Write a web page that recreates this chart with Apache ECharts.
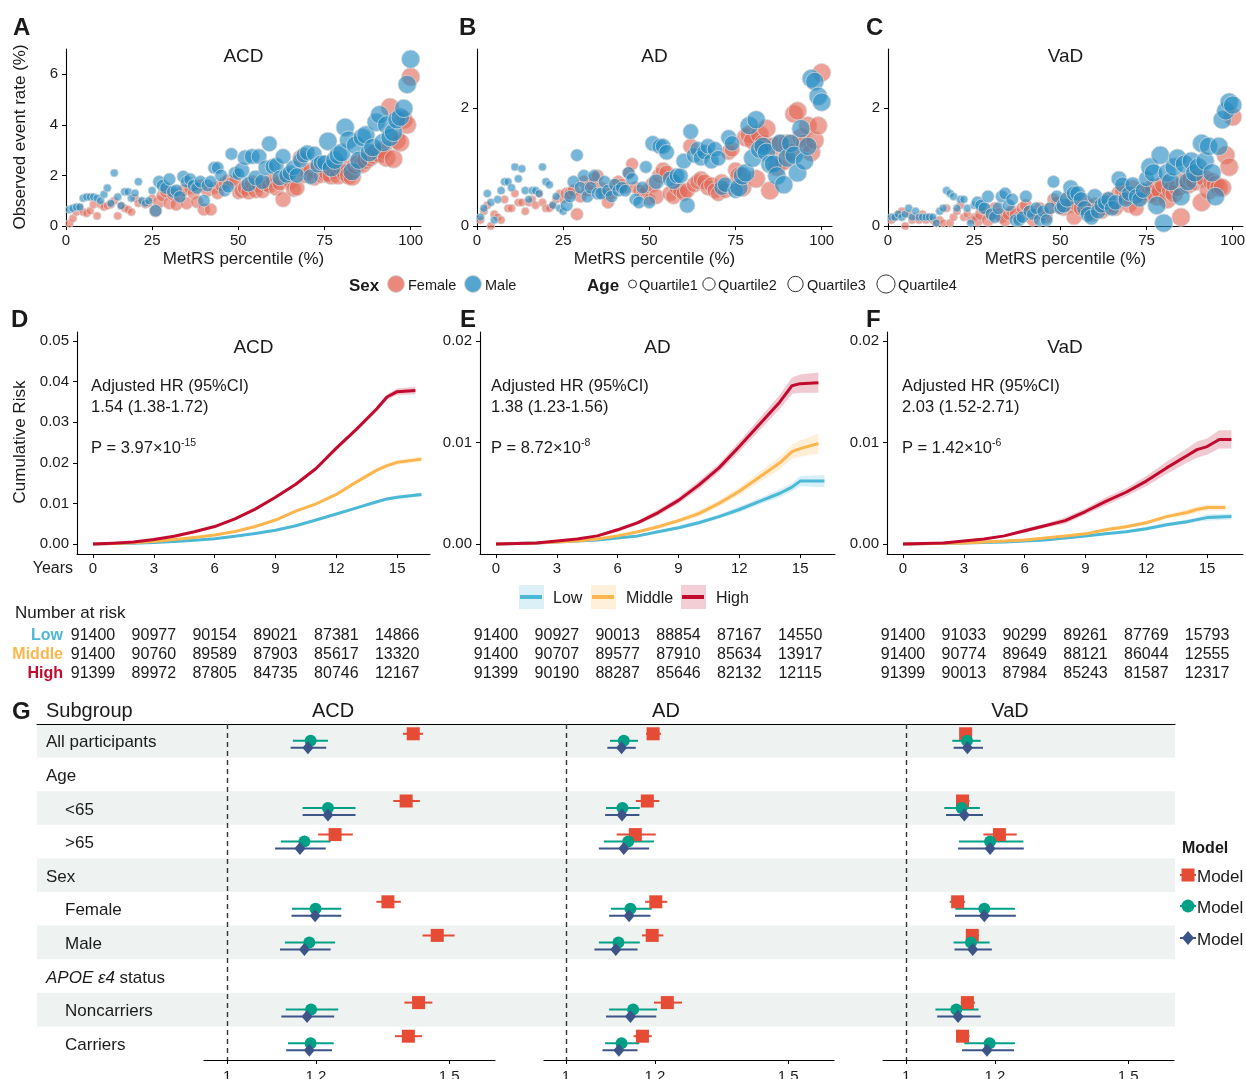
<!DOCTYPE html>
<html><head><meta charset="utf-8">
<script src="https://cdn.jsdelivr.net/npm/echarts@6/dist/echarts.min.js"></script>
<style>html,body{margin:0;padding:0;background:#fff}#c{width:1246px;height:1079px}</style>
</head><body><div id="c"></div>
<script>
// ---------------- DATA ----------------
// Panel A-C: observed event rate (%) by MetRS percentile (1..100), by sex
const acdFemale = [0.1,0.3,0.55,0.7,0.55,0.5,0.6,0.85,0.4,0.85, 0.75,0.8,0.85,1.0,0.4,0.8,0.7,0.65,0.55,1.1, 0.9,0.95,0.85,0.9,1.1,0.6,0.95,1.2,1.35,0.9, 1.25,0.85,1.2,1.4,0.9,1.5,1.3,0.95,1.6,0.65, 1.4,0.65,1.5,1.3,1.6,1.7,1.8,1.7,1.8,1.3, 1.4,1.5,1.35,1.7,1.4,1.6,1.4,1.65,1.6,1.8, 1.5,1.7,1.05,1.9,1.75,1.45,1.5,2.7,2.0,2.1, 2.2,1.9,2.3,2.0,2.05,2.1,2.0,2.2,2.0,2.3, 2.1,2.0,1.95,2.4,2.5,2.45,2.6,2.7,2.8,2.9, 2.85,3.0,2.7,4.7,2.65,3.4,3.3,4.2,4.0,5.9];
const acdMale = [0.65,0.7,0.75,0.75,1.1,1.15,1.15,1.15,1.1,1.0, 1.25,1.5,0.9,2.1,1.15,0.8,1.35,1.35,1.1,1.3, 1.75,1.0,0.9,1.0,1.4,0.6,1.75,1.6,1.5,1.85, 1.35,1.4,1.15,1.95,1.75,1.85,1.6,1.5,1.75,1.0, 1.6,1.75,2.3,2.3,2.0,1.4,1.55,2.85,2.1,2.05, 2.2,2.7,1.65,2.75,1.9,2.75,1.75,2.3,3.25,2.35, 2.4,1.9,2.75,2.0,2.1,2.3,2.0,2.6,2.8,2.9, 1.95,2.85,2.4,2.5,2.5,3.35,2.3,2.6,2.8,2.9, 3.9,3.4,2.15,3.2,2.6,3.5,3.6,2.9,3.1,4.1, 4.4,3.3,4.0,3.5,3.7,4.2,4.3,4.65,5.6,6.6];
const adFemale = [0.1,0.25,0.35,0.0,0.2,0.15,0.1,0.45,0.3,0.3, 0.55,0.4,0.4,0.25,0.4,0.45,0.35,0.55,0.4,0.3, 0.3,0.35,0.45,0.55,0.45,0.55,0.55,0.6,0.2,0.5, 0.75,0.6,0.7,0.8,0.85,0.65,0.55,0.4,0.55,0.7, 0.75,0.7,0.65,0.9,1.05,0.65,0.6,0.55,0.6,0.45, 0.7,0.5,0.85,0.95,0.9,0.55,0.5,0.65,0.6,0.55, 0.6,1.35,0.7,0.75,0.8,0.75,0.65,0.7,0.6,0.55, 0.75,0.6,1.25,1.3,0.95,0.85,0.65,1.5,1.55,1.45, 0.8,1.55,1.4,1.65,0.6,1.35,1.0,1.4,1.1,1.4, 1.25,1.9,1.95,1.5,1.4,1.7,1.25,1.45,1.7,2.6];
const adMale = [0.15,0.3,0.55,0.4,0.1,0.45,0.6,0.75,0.75,0.65, 1.0,0.8,0.97,0.6,0.45,0.6,0.6,0.55,1.0,0.75, 0.7,0.35,0.5,0.3,0.25,0.35,0.5,0.75,1.2,0.65, 0.85,0.5,0.65,0.85,0.55,0.55,0.75,0.6,0.5,0.7, 0.6,0.65,0.6,0.9,0.8,0.45,0.4,0.65,1.0,0.4, 1.4,0.75,1.35,1.35,1.25,0.8,0.75,0.85,0.85,1.1, 0.35,1.6,1.2,1.3,1.15,1.25,1.35,1.1,1.3,1.15, 0.65,0.7,1.5,1.4,0.6,0.65,0.85,0.9,1.7,1.15, 1.8,1.3,1.35,1.25,1.05,1.05,0.85,1.4,0.7,1.15, 1.4,1.2,0.9,1.65,1.1,1.35,2.5,2.45,2.2,2.1];
const vadFemale = [0.1,0.15,0.2,0.25,0.0,0.2,0.1,0.15,0.1,0.2, 0.1,0.15,0.1,0.05,0.1,0.05,0.3,0.05,0.15,0.25, 0.35,0.15,0.2,0.1,0.15,0.1,0.2,0.3,0.1,0.2, 0.3,0.2,0.15,0.1,0.2,0.25,0.2,0.15,0.3,0.35, 0.25,0.1,0.2,0.3,0.2,0.15,0.3,0.45,0.4,0.3, 0.3,0.45,0.35,0.15,0.35,0.3,0.4,0.25,0.2,0.35, 0.3,0.25,0.3,0.45,0.35,0.3,0.55,0.6,0.5,0.35, 0.65,0.3,0.55,0.5,0.6,0.55,0.65,0.5,0.6,0.7, 0.45,0.6,0.55,0.65,0.15,0.75,0.7,0.8,0.75,0.85, 0.4,0.8,0.6,0.75,0.7,0.65,0.65,1.2,1.0,1.85];
const vadMale = [0.15,0.15,0.2,0.15,0.2,0.3,0.15,0.25,0.15,0.15, 0.15,0.15,0.15,0.05,0.25,0.3,0.6,0.55,0.5,0.3, 0.45,0.45,0.3,0.05,0.35,0.4,0.35,0.3,0.5,0.2, 0.15,0.3,0.5,0.55,0.35,0.45,0.1,0.1,0.15,0.5, 0.25,0.2,0.3,0.1,0.25,0.1,0.3,0.75,0.5,0.3, 0.35,0.45,0.65,0.55,0.55,0.45,0.3,0.2,0.15,0.5, 0.25,0.35,0.4,0.45,0.3,0.4,0.8,0.7,0.45,0.55, 0.7,0.5,0.45,0.6,0.8,1.0,0.9,0.35,1.2,0.05, 0.9,0.75,1.0,1.15,0.5,1.05,0.75,1.1,0.9,1.0, 1.4,1.1,1.35,0.9,0.5,1.35,1.8,1.95,2.1,2.05];

// Panel D-F: cumulative risk curves [year, risk, CI half-width]
const kmAcdLow = [[0,0,0],[1,0.0001,0],[2,0.0002,0.0001],[3,0.0004,0.0001],[4,0.0006,0.0001],[5,0.0009,0.0001],[6,0.0013,0.0001],[7,0.0019,0.0002],[8,0.0026,0.0002],[9,0.0034,0.0002],[10,0.0045,0.0002],[11,0.0059,0.0003],[12,0.0074,0.0003],[13,0.0089,0.0003],[14,0.0104,0.0004],[14.5,0.0111,0.0004],[15,0.0115,0.0004],[16.2,0.0122,0.0005]];
const kmAcdMid = [[0,0,0],[1,0.0001,0],[2,0.0003,0.0001],[3,0.0006,0.0001],[4,0.0011,0.0001],[5,0.0016,0.0001],[6,0.0022,0.0002],[7,0.0031,0.0002],[8,0.0043,0.0002],[9,0.0059,0.0003],[10,0.0081,0.0003],[11,0.0099,0.0003],[12,0.0122,0.0004],[13,0.0153,0.0004],[14,0.0182,0.0005],[14.5,0.0193,0.0005],[15,0.0201,0.0006],[16.2,0.0209,0.0007]];
const kmAcdHigh = [[0,0,0],[1,0.0002,0],[2,0.0005,0.0001],[3,0.0011,0.0001],[4,0.0019,0.0001],[5,0.003,0.0002],[6,0.0043,0.0002],[7,0.0062,0.0002],[8,0.0086,0.0003],[9,0.0115,0.0003],[10,0.0147,0.0004],[11,0.0186,0.0004],[12,0.0236,0.0005],[13,0.0283,0.0005],[14,0.0333,0.0006],[14.5,0.0362,0.0007],[15,0.0375,0.0008],[15.9,0.0378,0.0009]];
const kmAdLow = [[0,0,0],[2,0.0001,0],[3,0.0002,0.0001],[4,0.0003,0.0001],[5,0.0004,0.0001],[6,0.0006,0.0001],[7,0.0008,0.0001],[8,0.0012,0.0001],[9,0.0016,0.0002],[10,0.0021,0.0002],[11,0.0027,0.0002],[12,0.0034,0.0003],[13,0.0042,0.0003],[14,0.005,0.0004],[14.6,0.0056,0.0004],[15,0.0062,0.0005],[16.2,0.0062,0.0006]];
const kmAdMid = [[0,0,0],[2,0.0001,0],[3,0.0002,0.0001],[4,0.0003,0.0001],[5,0.0005,0.0001],[6,0.0008,0.0001],[7,0.0012,0.0001],[8,0.0017,0.0002],[9,0.0023,0.0002],[10,0.003,0.0003],[11,0.004,0.0003],[12,0.0052,0.0004],[13,0.0066,0.0005],[14,0.008,0.0006],[14.6,0.0091,0.0007],[15,0.0094,0.0008],[15.9,0.0099,0.001]];
const kmAdHigh = [[0,0,0],[1,0.00005,0],[2,0.0001,0],[3,0.0003,0.0001],[4,0.0005,0.0001],[5,0.0008,0.0001],[6,0.0014,0.0002],[7,0.0021,0.0002],[8,0.0031,0.0003],[9,0.0043,0.0003],[10,0.0058,0.0004],[11,0.0075,0.0004],[12,0.0096,0.0005],[13,0.0118,0.0006],[14,0.014,0.0007],[14.6,0.0156,0.0008],[15,0.0158,0.0009],[15.9,0.0159,0.001]];
const kmVadLow = [[0,0,0],[3,0.0001,0],[5,0.0002,0.0001],[6,0.0003,0.0001],[7,0.0004,0.0001],[8,0.0006,0.0001],[9,0.0008,0.0001],[10,0.001,0.0001],[11,0.0012,0.0001],[12,0.0015,0.0002],[13,0.0019,0.0002],[14,0.0022,0.0002],[14.5,0.0024,0.0002],[15,0.0026,0.0003],[16.2,0.0027,0.0003]];
const kmVadMid = [[0,0,0],[3,0.0001,0],[4,0.0002,0.0001],[5,0.0003,0.0001],[6,0.0004,0.0001],[7,0.0006,0.0001],[8,0.0008,0.0001],[9,0.001,0.0001],[10,0.0014,0.0002],[11,0.0017,0.0002],[12,0.0021,0.0002],[13,0.0027,0.0002],[14,0.0031,0.0003],[14.5,0.0034,0.0003],[15,0.0036,0.0003],[15.9,0.0036,0.0003]];
const kmVadHigh = [[0,0,0],[1,0.00005,0],[2,0.0001,0],[3,0.0003,0.0001],[4,0.0005,0.0001],[5,0.0008,0.0001],[6,0.0013,0.0002],[7,0.0018,0.0002],[8,0.0023,0.0003],[9,0.0032,0.0003],[10,0.0042,0.0004],[11,0.0051,0.0004],[12,0.0062,0.0005],[13,0.0075,0.0006],[14,0.0087,0.0007],[14.5,0.0093,0.0008],[15,0.0096,0.0008],[15.6,0.0103,0.0009],[16.2,0.0103,0.0009]];

const kmYearTicks = [0,3,6,9,12,15];
const riskGroups = ['Low','Middle','High'];
const riskAcdLow = [91400,90977,90154,89021,87381,14866];
const riskAcdMid = [91400,90760,89589,87903,85617,13320];
const riskAcdHigh = [91399,89972,87805,84735,80746,12167];
const riskAdLow = [91400,90927,90013,88854,87167,14550];
const riskAdMid = [91400,90707,89577,87910,85634,13917];
const riskAdHigh = [91399,90190,88287,85646,82132,12115];
const riskVadLow = [91400,91033,90299,89261,87769,15793];
const riskVadMid = [91400,90774,89649,88121,86044,12555];
const riskVadHigh = [91399,90013,87984,85243,81587,12317];

// Panel G: hazard ratios [estimate, lower, upper]; null = header row
const forestRows = ['All participants','Age','<65','>65','Sex','Female','Male','APOE ε4 status','Noncarriers','Carriers'];
const forestLevel = [0,0,1,1,0,1,1,0,1,1];
const acdM1 = [[1.419,1.396,1.441],null,[1.403,1.374,1.434],[1.243,1.205,1.283],null,[1.362,1.336,1.391],[1.473,1.440,1.512],null,[1.431,1.399,1.462],[1.408,1.378,1.439]];
const acdM2 = [[1.188,1.148,1.227],null,[1.227,1.170,1.289],[1.174,1.121,1.233],null,[1.199,1.146,1.257],[1.185,1.130,1.243],null,[1.189,1.132,1.250],[1.188,1.137,1.240]];
const acdM3 = [[1.182,1.143,1.223],null,[1.227,1.170,1.289],[1.164,1.108,1.222],null,[1.198,1.145,1.257],[1.174,1.119,1.233],null,[1.180,1.122,1.241],[1.185,1.133,1.236]];
const adM1 = [[1.196,1.180,1.214],null,[1.183,1.157,1.210],[1.156,1.114,1.202],null,[1.202,1.178,1.228],[1.194,1.171,1.219],null,[1.228,1.198,1.261],[1.172,1.152,1.193]];
const adM2 = [[1.130,1.099,1.162],null,[1.127,1.090,1.166],[1.140,1.085,1.198],null,[1.145,1.101,1.193],[1.118,1.074,1.166],null,[1.151,1.097,1.205],[1.125,1.088,1.165]];
const adM3 = [[1.125,1.093,1.157],null,[1.126,1.088,1.165],[1.130,1.074,1.187],null,[1.142,1.097,1.190],[1.112,1.064,1.161],null,[1.145,1.090,1.203],[1.119,1.082,1.161]];
const vadM1 = [[1.134,1.122,1.148],null,[1.127,1.114,1.143],[1.210,1.174,1.249],null,[1.116,1.098,1.133],[1.149,1.135,1.164],null,[1.138,1.123,1.155],[1.127,1.114,1.143]];
const vadM2 = [[1.137,1.104,1.168],null,[1.125,1.086,1.166],[1.189,1.119,1.264],null,[1.176,1.111,1.245],[1.146,1.107,1.188],null,[1.113,1.066,1.163],[1.188,1.131,1.245]];
const vadM3 = [[1.138,1.107,1.173],null,[1.131,1.090,1.173],[1.189,1.117,1.265],null,[1.176,1.110,1.247],[1.150,1.109,1.193],null,[1.117,1.070,1.168],[1.182,1.126,1.243]];
const forestTicks = [1,1.2,1.5];

// ---------------- STYLE ----------------
const FONT = '"Liberation Sans", Arial, Helvetica, sans-serif';
const TXT = '#1a1a1a';
const FEM = 'rgba(228,104,86,0.78)';
const MAL = 'rgba(36,140,194,0.78)';
const CLOW = '#4BB8D6', CMID = '#FDB54E', CHIGH = '#C10A2E';
const CM1 = '#E64B35', CM2 = '#00A087', CM3 = '#3C5488';
const QSIZE = [8, 12.5, 15.5, 18.3];
const DY = 2; // text baseline nudge

const grids = [
  {left:66, top:49, width:355, height:177},
  {left:477, top:49, width:355, height:177},
  {left:888, top:49, width:355, height:177},
  {left:77, top:332, width:353, height:222},
  {left:480, top:332, width:355, height:222},
  {left:887, top:332, width:356, height:222},
  {left:77, top:624, width:353, height:57},
  {left:480, top:624, width:355, height:57},
  {left:887, top:624, width:356, height:57},
  {left:37, top:724, width:1138, height:336},
  {left:204, top:724, width:291, height:336},
  {left:544, top:724, width:290, height:336},
  {left:883, top:724, width:291, height:336}
].map(g => Object.assign({containLabel:false, outerBoundsMode:'none'}, g));

function vAxis(gi, min, max, ticks, o) {
  o = o || {};
  return {
    type:'value', gridIndex:gi, min:min, max:max, position:o.position,
    show: o.show !== false,
    splitLine:{show:false},
    axisLine:{show:true, onZero:false, lineStyle:{color:'#000', width:1.1}},
    axisTick:{show:o.tick !== false, length:4, customValues:ticks, lineStyle:{color:'#000', width:1}},
    axisLabel:{show:o.label !== false, customValues:ticks, color:TXT, fontFamily:FONT, fontSize:15, margin:o.margin || 6,
      formatter:o.fmt}
  };
}

const xAxes = [
  vAxis(0, 0, 103, [0,25,50,75,100], {margin:7}),
  vAxis(1, 0, 103, [0,25,50,75,100], {margin:7}),
  vAxis(2, 0, 103, [0,25,50,75,100], {margin:7}),
  vAxis(3, -0.79, 16.62, kmYearTicks, {margin:7}),
  vAxis(4, -0.79, 16.72, kmYearTicks, {margin:7}),
  vAxis(5, -0.79, 16.77, kmYearTicks, {margin:7}),
  vAxis(6, -0.79, 16.62, kmYearTicks, {show:false}),
  vAxis(7, -0.79, 16.72, kmYearTicks, {show:false}),
  vAxis(8, -0.79, 16.77, kmYearTicks, {show:false}),
  Object.assign(vAxis(9, 0, 1, [], {position:'top', tick:false, label:false}), {axisLine:{show:true, onZero:false, lineStyle:{color:'#000', width:1.2}}}),
  vAxis(10, 0.948, 1.603, forestTicks, {margin:9}),
  vAxis(11, 0.9505, 1.603, forestTicks, {margin:9}),
  vAxis(12, 0.948, 1.603, forestTicks, {margin:9})
];
const fmt2 = v => v.toFixed(2);
const catAxis = (gi, data, o) => Object.assign({
  type:'category', gridIndex:gi, data:data, inverse:true, boundaryGap:true,
  axisLine:{show:false}, axisTick:{show:false}, splitLine:{show:false}, axisLabel:{show:false}
}, o || {});
const yAxes = [
  vAxis(0, 0, 7, [0,2,4,6], {margin:8}),
  vAxis(1, 0, 3, [0,2], {margin:8}),
  vAxis(2, 0, 3, [0,2], {margin:8}),
  vAxis(3, -0.00246, 0.0522, [0,0.01,0.02,0.03,0.04,0.05], {margin:8, fmt:fmt2}),
  vAxis(4, -0.000985, 0.02089, [0,0.01,0.02], {margin:8, fmt:fmt2}),
  vAxis(5, -0.000985, 0.02089, [0,0.01,0.02], {margin:8, fmt:fmt2}),
  catAxis(6, riskGroups, {axisLabel:{show:true, margin:14, formatter:v => '{' + v + '|' + v + '}',
    rich:{Low:{color:CLOW, fontWeight:'bold', fontSize:16, fontFamily:FONT, padding:[DY*2,0,0,0]},
          Middle:{color:CMID, fontWeight:'bold', fontSize:16, fontFamily:FONT, padding:[DY*2,0,0,0]},
          High:{color:CHIGH, fontWeight:'bold', fontSize:16, fontFamily:FONT, padding:[DY*2,0,0,0]}}}}),
  catAxis(7, riskGroups),
  catAxis(8, riskGroups),
  catAxis(9, forestRows),
  catAxis(10, forestRows),
  catAxis(11, forestRows),
  catAxis(12, forestRows)
];

const series = [];

// ---- scatter panels
function scat(gi, vals, color) {
  series.push({
    type:'scatter', xAxisIndex:gi, yAxisIndex:gi, z:2,
    data: vals.map((v, i) => [i + 1, v]),
    symbol:'circle',
    symbolSize: d => QSIZE[Math.min(3, Math.ceil(d[0] / 25) - 1)],
    itemStyle:{color:color, borderColor:'rgba(215,215,215,0.95)', borderWidth:1},
    emphasis:{disabled:true}
  });
}
scat(0, acdFemale, FEM); scat(0, acdMale, MAL);
scat(1, adFemale, FEM); scat(1, adMale, MAL);
scat(2, vadFemale, FEM); scat(2, vadMale, MAL);

// ---- KM panels
function band(gi, curve, color) {
  series.push({
    type:'custom', xAxisIndex:gi, yAxisIndex:gi, z:1, silent:true,
    data: curve.map((p, i) => [p[0], p[1], i]),
    encode:{x:0, y:1},
    renderItem: function (params, api) {
      if (api.value(2) !== 0) return null;
      const up = curve.map(p => api.coord([p[0], p[1] + p[2]]));
      const lo = curve.slice().reverse().map(p => api.coord([p[0], p[1] - p[2]]));
      return {type:'polygon', shape:{points: up.concat(lo)}, style:{fill:color, opacity:0.22}};
    }
  });
}
function kmLine(gi, curve, color) {
  series.push({
    type:'line', xAxisIndex:gi, yAxisIndex:gi, z:3, showSymbol:false, silent:true,
    data: curve.map(p => [p[0], p[1]]),
    lineStyle:{color:color, width:3, join:'round'}, itemStyle:{color:color}
  });
}
[[3, kmAcdLow, kmAcdMid, kmAcdHigh], [4, kmAdLow, kmAdMid, kmAdHigh], [5, kmVadLow, kmVadMid, kmVadHigh]].forEach(r => {
  band(r[0], r[1], CLOW); band(r[0], r[2], CMID); band(r[0], r[3], CHIGH);
  kmLine(r[0], r[1], CLOW); kmLine(r[0], r[2], CMID); kmLine(r[0], r[3], CHIGH);
});

// ---- risk tables
function riskSeries(gi, rows) {
  const data = [];
  rows.forEach((arr, ri) => arr.forEach((n, j) => data.push([kmYearTicks[j], ri, n])));
  series.push({
    type:'custom', xAxisIndex:gi, yAxisIndex:gi, silent:true, data:data, encode:{x:0, y:1},
    renderItem: function (params, api) {
      const c = api.coord([api.value(0), api.value(1)]);
      return {type:'text', x:c[0], y:c[1] + DY, style:{text:String(api.value(2)), fontFamily:FONT, fontSize:16, fill:TXT, align:'center', verticalAlign:'middle'}};
    }
  });
}
riskSeries(6, [riskAcdLow, riskAcdMid, riskAcdHigh]);
riskSeries(7, [riskAdLow, riskAdMid, riskAdHigh]);
riskSeries(8, [riskVadLow, riskVadMid, riskVadHigh]);

// ---- forest background bands + row labels
series.push({
  type:'custom', xAxisIndex:9, yAxisIndex:9, z:0, silent:true,
  data: forestRows.map((r, i) => [0, i]), encode:{x:0, y:1},
  renderItem: function (params, api) {
    const i = api.value(1);
    const c = api.coord([0, i]);
    const h = api.size([0, 1])[1];
    const cs = params.coordSys;
    const kids = [];
    if (i % 2 === 0) kids.push({type:'rect', shape:{x:cs.x, y:c[1] - h / 2, width:cs.width, height:h}, style:{fill:'#EEF2F0'}});
    const label = forestRows[i];
    const isApoe = label.indexOf('APOE') === 0;
    kids.push({type:'text', x: cs.x + (forestLevel[i] ? 28 : 9), y: c[1] + DY,
      style: isApoe ? {text:'{i|APOE ε4} status', rich:{i:{fontStyle:'italic', fontFamily:FONT, fontSize:17, fill:TXT}}, fontFamily:FONT, fontSize:17, fill:TXT, align:'left', verticalAlign:'middle'}
                    : {text:label, fontFamily:FONT, fontSize:17, fill:TXT, align:'left', verticalAlign:'middle'}});
    return {type:'group', children:kids};
  }
});

// ---- forest plots
function forest(gi, rows, color, symbol, size, dy, withRef) {
  const ci = [], pts = [];
  rows.forEach((r, i) => { if (r) { ci.push([r[1], r[2], i]); pts.push([r[0], i]); } });
  series.push({
    type:'custom', xAxisIndex:gi, yAxisIndex:gi, z:3, silent:true, data:ci, encode:{x:[0,1], y:2},
    renderItem: function (params, api) {
      const a = api.coord([api.value(0), api.value(2)]);
      const b = api.coord([api.value(1), api.value(2)]);
      return {type:'line', shape:{x1:a[0], y1:a[1] + dy, x2:b[0], y2:b[1] + dy}, style:{stroke:color, lineWidth:2}};
    }
  });
  const s = {
    type:'scatter', xAxisIndex:gi, yAxisIndex:gi, z:4, silent:true, data:pts,
    symbol:symbol, symbolSize:size, symbolOffset:[0, dy],
    itemStyle:{color:color, opacity:1}
  };
  if (withRef) s.markLine = {silent:true, symbol:['none','none'], label:{show:false}, z:2,
    lineStyle:{color:'#333', type:[5,4], width:1.4}, data:[{xAxis:1}]};
  series.push(s);
}
[[10, acdM1, acdM2, acdM3], [11, adM1, adM2, adM3], [12, vadM1, vadM2, vadM3]].forEach(r => {
  forest(r[0], r[1], CM1, 'rect', 13, -7, true);
  forest(r[0], r[2], CM2, 'circle', 12, 0, false);
  forest(r[0], r[3], CM3, 'diamond', [11, 13], 7, false);
});

// ---------------- TEXT / LEGENDS ----------------
const G = [];
function txt(x, y, text, size, o) {
  o = o || {};
  const rot = o.rot || 0;
  G.push({type:'text', x:x + (rot ? DY : 0), y:y + (rot ? 0 : DY), rotation:rot, silent:true, z:100,
    style:{text:text, fontFamily:FONT, fontSize:size, fontWeight:o.bold ? 'bold' : 'normal', fontStyle:o.italic ? 'italic' : 'normal',
      fill:o.color || TXT, align:o.align || 'left', verticalAlign:o.va || 'middle', rich:o.rich}});
}
// panel letters
[['A',13,26],['B',459,26],['C',866,26],['D',11,318],['E',460,318],['F',866,318],['G',12,710]].forEach(p => txt(p[1], p[2], p[0], 24, {bold:true}));
// titles
txt(243.5, 55, 'ACD', 19, {align:'center'}); txt(654.5, 55, 'AD', 19, {align:'center'}); txt(1065.5, 55, 'VaD', 19, {align:'center'});
txt(253.5, 346, 'ACD', 19, {align:'center'}); txt(657.5, 346, 'AD', 19, {align:'center'}); txt(1065, 346, 'VaD', 19, {align:'center'});
// scatter axis titles
txt(18, 137, 'Observed event rate (%)', 17, {align:'center', rot:Math.PI / 2});
txt(243.5, 257, 'MetRS percentile (%)', 17, {align:'center'});
txt(654.5, 257, 'MetRS percentile (%)', 17, {align:'center'});
txt(1065.5, 257, 'MetRS percentile (%)', 17, {align:'center'});
// scatter legend
txt(349, 284, 'Sex', 17, {bold:true});
G.push({type:'circle', shape:{cx:396, cy:284, r:8.5}, style:{fill:FEM, stroke:'#d5d5d5', lineWidth:1}, z:100, silent:true});
txt(408, 284, 'Female', 14.5);
G.push({type:'circle', shape:{cx:473, cy:284, r:8.5}, style:{fill:MAL, stroke:'#d5d5d5', lineWidth:1}, z:100, silent:true});
txt(485, 284, 'Male', 14.5);
txt(587, 284, 'Age', 17, {bold:true});
[[632.5, 4, 639, 'Quartile1'], [709, 6.2, 718, 'Quartile2'], [795.5, 7.7, 807, 'Quartile3'], [886, 9.1, 898, 'Quartile4']].forEach(q => {
  G.push({type:'circle', shape:{cx:q[0], cy:284, r:q[1]}, style:{fill:'#fff', stroke:'#333', lineWidth:1}, z:100, silent:true});
  txt(q[2], 284, q[3], 14.5);
});
// KM annotations
const supRich = {n:{fontFamily:FONT, fontSize:16.5, fill:TXT, color:TXT, lineHeight:20}, s:{fontFamily:FONT, fontSize:10.5, fill:TXT, color:TXT, verticalAlign:'top', lineHeight:12}};
[[91, '1.54 (1.38-1.72)', '3.97×10', '-15'], [491, '1.38 (1.23-1.56)', '8.72×10', '-8'], [902, '2.03 (1.52-2.71)', '1.42×10', '-6']].forEach(a => {
  txt(a[0], 384, 'Adjusted HR (95%CI)', 16.5);
  txt(a[0], 405, a[1], 16.5);
  txt(a[0], 446, '{n|P = ' + a[2] + '}{s|' + a[3] + '}', 16.5, {rich:supRich});
});
txt(18, 442, 'Cumulative Risk', 17, {align:'center', rot:Math.PI / 2});
txt(73, 567, 'Years', 16, {align:'right'});
// KM legend
[[519, 544, CLOW, 'Low', 553], [591, 616, CMID, 'Middle', 626], [681, 706, CHIGH, 'High', 716]].forEach(l => {
  G.push({type:'rect', shape:{x:l[0], y:585, width:l[1] - l[0], height:24}, style:{fill:l[2], opacity:0.2}, z:100, silent:true});
  G.push({type:'line', shape:{x1:l[0] + 1, y1:597, x2:l[1] - 2, y2:597}, style:{stroke:l[2], lineWidth:4}, z:101, silent:true});
  txt(l[4], 597, l[3], 16);
});
txt(15, 611, 'Number at risk', 17);
// forest headers
txt(46, 709, 'Subgroup', 20);
txt(333, 709, 'ACD', 20, {align:'center'}); txt(666, 709, 'AD', 20, {align:'center'}); txt(1010, 709, 'VaD', 20, {align:'center'});
// model legend
txt(1182, 847, 'Model', 16, {bold:true});
[[875, CM1, 'rect'], [906, CM2, 'circle'], [938, CM3, 'diamond']].forEach(m => {
  G.push({type:'line', shape:{x1:1180, y1:m[0], x2:1196, y2:m[0]}, style:{stroke:m[1], lineWidth:2}, z:100, silent:true});
  if (m[2] === 'rect') G.push({type:'rect', shape:{x:1181.5, y:m[0] - 6.5, width:13, height:13}, style:{fill:m[1]}, z:101, silent:true});
  if (m[2] === 'circle') G.push({type:'circle', shape:{cx:1188, cy:m[0], r:6.5}, style:{fill:m[1]}, z:101, silent:true});
  if (m[2] === 'diamond') G.push({type:'polygon', shape:{points:[[1188, m[0] - 7], [1194, m[0]], [1188, m[0] + 7], [1182, m[0]]]}, style:{fill:m[1]}, z:101, silent:true});
  txt(1197, m[0], 'Model', 17);
});

const chart = echarts.init(document.getElementById('c'), null, {renderer:'canvas'});
chart.setOption({
  animation:false,
  backgroundColor:'#fff',
  textStyle:{fontFamily:FONT},
  grid:grids, xAxis:xAxes, yAxis:yAxes, series:series, graphic:{elements:G}
});
</script>
</body></html>
